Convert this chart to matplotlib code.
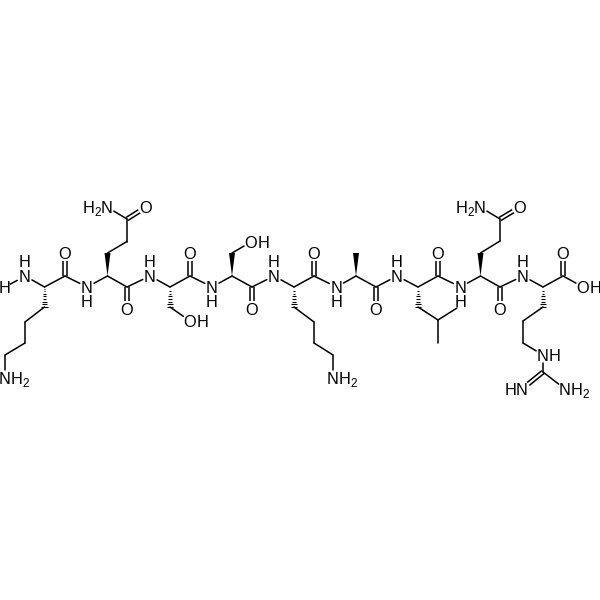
#!/usr/bin/env python3
import numpy as np
import matplotlib
matplotlib.use("Agg")
import matplotlib.pyplot as plt

plt.rcParams['font.family'] = ['Liberation Sans', 'DejaVu Sans']

# --- atoms, picture pixels ---
atoms = {
    # Lys 1
    "n1": (25, 276), "a1": (44.5, 287), "c1": (65, 276), "o1": (65, 253),
    "b1": (44.5, 307), "g1": (25, 322), "d1": (25, 343), "e1": (5, 355), "z1": (5, 378),
    # Gln 2
    "n2": (87, 287), "a2": (107.5, 276), "c2": (127, 287), "o2": (127, 309),
    "b2": (107.5, 253), "g2": (127, 241.5), "d2": (127, 219), "oe2": (146, 207), "ne2": (107, 207),
    # Ser 3
    "n3": (150, 276), "a3": (170, 287), "c3": (190, 276), "o3": (190, 253),
    "b3": (170, 307), "og3": (190, 321),
    # Ser 4
    "n4": (212, 287), "a4": (232, 276), "c4": (252, 287), "o4": (252, 309),
    "b4": (232, 253), "og4": (251, 242),
    # Lys 5
    "n5": (274, 276), "a5": (294, 287), "c5": (314, 276), "o5": (314, 253),
    "b5": (294, 307), "g5": (314, 322), "d5": (314, 343), "e5": (333, 355), "z5": (333, 378),
    # Ala 6
    "n6": (336.5, 287), "a6": (356, 276), "c6": (376, 287), "o6": (376, 309), "b6": (356, 253),
    # Leu 7
    "n7": (397, 276), "a7": (418, 287), "c7": (438, 276), "o7": (438, 253),
    "b7": (418, 307), "g7": (438, 320), "d71": (457, 308), "d72": (438, 343),
    # Gln 8
    "n8": (460.5, 287), "a8": (480.5, 276), "c8": (500, 287), "o8": (500, 309),
    "b8": (480.5, 253), "g8": (500, 241), "d8": (500, 219), "oe8": (520, 207), "ne8": (480, 207),
    # Arg 9
    "n9": (523, 276), "a9": (543, 287), "c9": (563, 276), "o9": (563, 253), "oh9": (583, 287),
    "b9": (543, 307), "g9": (523, 321), "d9": (523, 343), "ne9": (543, 355),
    "cz9": (543, 372), "nh91": (522, 389), "nh92": (565, 389),
}

single_bonds = [
    ("n1", "a1"), ("a1", "c1"), ("c1", "n2"), ("n2", "a2"), ("a2", "c2"), ("c2", "n3"),
    ("n3", "a3"), ("a3", "c3"), ("c3", "n4"), ("n4", "a4"), ("a4", "c4"), ("c4", "n5"),
    ("n5", "a5"), ("a5", "c5"), ("c5", "n6"), ("n6", "a6"), ("a6", "c6"), ("c6", "n7"),
    ("n7", "a7"), ("a7", "c7"), ("c7", "n8"), ("n8", "a8"), ("a8", "c8"), ("c8", "n9"),
    ("n9", "a9"), ("a9", "c9"), ("c9", "oh9"),
    ("b1", "g1"), ("g1", "d1"), ("d1", "e1"), ("e1", "z1"),
    ("b2", "g2"), ("g2", "d2"), ("d2", "ne2"),
    ("b3", "og3"), ("b4", "og4"),
    ("b5", "g5"), ("g5", "d5"), ("d5", "e5"), ("e5", "z5"),
    ("b7", "g7"), ("g7", "d71"), ("g7", "d72"),
    ("b8", "g8"), ("g8", "d8"), ("d8", "ne8"),
    ("b9", "g9"), ("g9", "d9"), ("d9", "ne9"), ("ne9", "cz9"), ("cz9", "nh92"),
]
double_bonds = [
    ("c1", "o1"), ("c2", "o2"), ("d2", "oe2"), ("c3", "o3"), ("c4", "o4"), ("c5", "o5"),
    ("c6", "o6"), ("c7", "o7"), ("c8", "o8"), ("d8", "oe8"), ("c9", "o9"), ("cz9", "nh91"),
]
wedge_bonds = [("a2", "b2"), ("a4", "b4"), ("a6", "b6"), ("a8", "b8")]
hash_bonds = [("a1", "b1"), ("a3", "b3"), ("a5", "b5"), ("a7", "b7"), ("a9", "b9")]

# label groups
o_atoms = ["o1", "o2", "oe2", "o3", "o4", "o5", "o6", "o7", "o8", "oe8", "o9"]
oh_atoms = ["og3", "og4", "oh9"]
nh_above = ["n1", "n3", "n5", "n7", "n9"]
nh_below = ["n2", "n4", "n6", "n8"]
nh2_right = ["z1", "z5", "nh92"]
h2n_left = ["ne2", "ne8"]
nh_right = ["ne9"]
hn_left = ["nh91"]
labelled = set(o_atoms + oh_atoms + nh_above + nh_below + nh2_right + h2n_left + nh_right + hn_left)

BOND_LW = 1.1
GAP = 8.0
FS = 11.8
SUB_FS = 8.6
CH = 11.6   # advance of a capital, px
SUB_W = 6.6


def trimmed(p, q):
    a = np.array(atoms[p], float)
    b = np.array(atoms[q], float)
    u = (b - a) / np.hypot(*(b - a))
    if p in labelled:
        a = a + u * GAP
    if q in labelled:
        b = b - u * GAP
    return a, b, u


def label(ax, x, y, s, ha="center", size=FS, dy=5.8):
    ax.text(x, y + dy, s, ha=ha, va="baseline", fontsize=size, color="black")


fig = plt.figure(figsize=(6, 6), dpi=100)
ax = fig.add_axes([0, 0, 1, 1])
ax.set_xlim(0, 600)
ax.set_ylim(600, 0)
ax.axis("off")

for p, q in single_bonds:
    a, b, u = trimmed(p, q)
    ax.plot([a[0], b[0]], [a[1], b[1]], color="black", lw=BOND_LW, solid_capstyle="round")

for p, q in double_bonds:
    a, b, u = trimmed(p, q)
    n = np.array([-u[1], u[0]])
    for s in (-1.8, 1.8):
        ax.plot([a[0] + n[0] * s, b[0] + n[0] * s], [a[1] + n[1] * s, b[1] + n[1] * s],
                color="black", lw=BOND_LW, solid_capstyle="butt")

for p, q in wedge_bonds:
    a = np.array(atoms[p], float)
    b = np.array(atoms[q], float)
    u = (b - a) / np.hypot(*(b - a))
    n = np.array([-u[1], u[0]])
    pts = [a, b + n * 3.0, b - n * 3.0]
    ax.fill([t[0] for t in pts], [t[1] for t in pts], color="black", lw=0)

for p, q in hash_bonds:
    a = np.array(atoms[p], float)
    b = np.array(atoms[q], float)
    u = (b - a) / np.hypot(*(b - a))
    n = np.array([-u[1], u[0]])
    for t in np.linspace(0.08, 1.0, 8):
        c = a + (b - a) * t
        w = 3.2 * t
        ax.plot([c[0] - n[0] * w, c[0] + n[0] * w], [c[1] - n[1] * w, c[1] + n[1] * w],
                color="black", lw=0.8, solid_capstyle="butt")

for k in o_atoms:
    label(ax, *atoms[k], "O")
for k in oh_atoms:
    x, y = atoms[k]
    label(ax, x, y, "O")
    label(ax, x + 6.2, y, "H", ha="left")
for k in nh_above:
    x, y = atoms[k]
    label(ax, x, y, "N")
    label(ax, x, y - 15, "H")
for k in nh_below:
    x, y = atoms[k]
    label(ax, x, y, "N")
    label(ax, x, y + 14.5, "H")
for k in nh2_right:
    x, y = atoms[k]
    label(ax, x, y, "N")
    label(ax, x + CH / 2, y, "H", ha="left")
    label(ax, x + CH * 1.5, y + 3, "2", ha="left", size=SUB_FS)
for k in h2n_left:
    x, y = atoms[k]
    label(ax, x, y, "N")
    label(ax, x - CH / 2, y + 3, "2", ha="right", size=SUB_FS)
    label(ax, x - CH / 2 - SUB_W, y, "H", ha="right")
for k in nh_right:
    x, y = atoms[k]
    label(ax, x, y, "N")
    label(ax, x + CH / 2, y, "H", ha="left")
for k in hn_left:
    x, y = atoms[k]
    label(ax, x, y, "N")
    label(ax, x - CH / 2, y, "H", ha="right")

# extra H on the free amine
label(ax, 5, 287, "H")
ax.plot([10.5, 17], [284, 280.5], color="black", lw=BOND_LW)

fig.savefig("out.png", dpi=100)
